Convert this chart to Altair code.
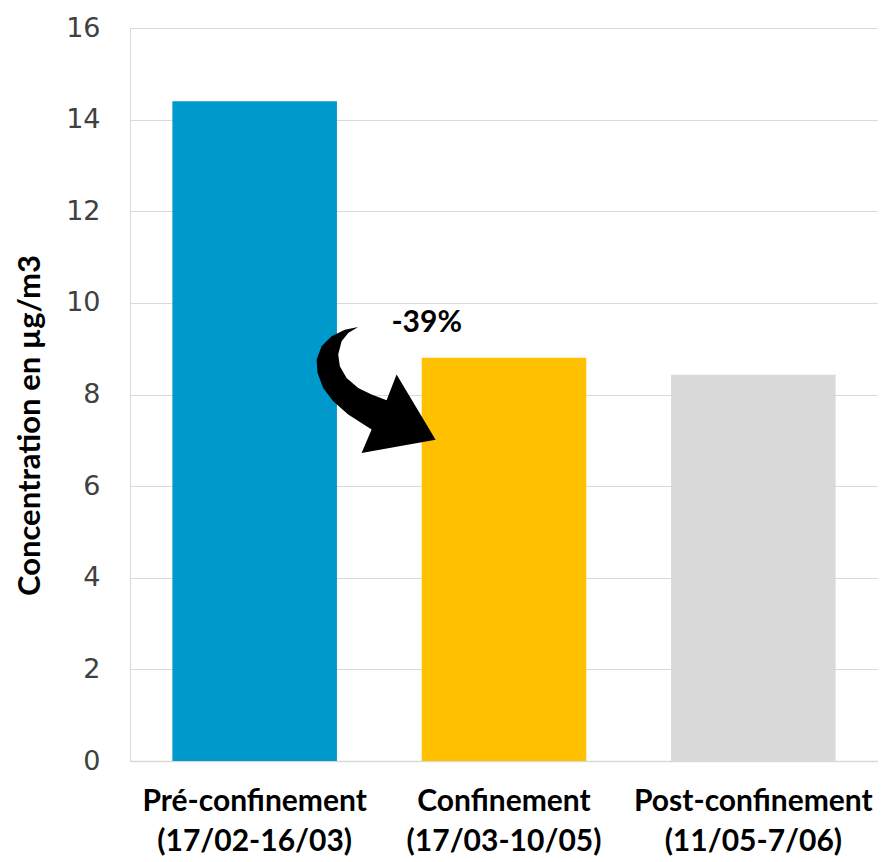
import altair as alt
import pandas as pd

# ---- data ----
categories = ["Pré-confinement|(17/02-16/03)", "Confinement|(17/03-10/05)", "Post-confinement|(11/05-7/06)"]
values = [14.4, 8.8, 8.43]
colors = ["#0099CC", "#FFC000", "#D9D9D9"]
y_ticks = [0, 2, 4, 6, 8, 10, 12, 14, 16]

# annotation (arrow + percentage), positions in data units
note_text = ["-39%"]
note_x = [1.19]
note_y = [9.56]
arrow_x = [0.987]
arrow_y = [8.10]

# outline of the curved arrow glyph (unit square, SVG y-down)
arrow_glyph = [(-0.280, -0.984), (-0.488, -0.942), (-0.695, -0.839), (-0.852, -0.683),
               (-0.930, -0.473), (-0.914, -0.266), (-0.827, -0.031), (-0.670, 0.177),
               (-0.436, 0.386), (-0.070, 0.620), (-0.227, 0.984), (0.930, 0.777),
               (0.320, -0.239), (0.164, 0.161), (-0.070, 0.073), (-0.280, -0.031),
               (-0.461, -0.188), (-0.566, -0.370), (-0.592, -0.552), (-0.539, -0.761),
               (-0.436, -0.891)]
arrow_path = "M" + "L".join(f"{a},{b}" for a, b in arrow_glyph) + "Z"

df = pd.DataFrame({"cat": categories, "val": values})
notes = pd.DataFrame({"t": note_text, "x": note_x, "y": note_y})
arrows = pd.DataFrame({"x": arrow_x, "y": arrow_y})

W, H = 748, 733

bars = alt.Chart(df).mark_bar().encode(
    x=alt.X("cat:N", sort=categories,
            scale=alt.Scale(paddingInner=0.34, paddingOuter=0.17),
            axis=alt.Axis(title=None, labelExpr="split(datum.label, '|')", labelAngle=0,
                          labelFont="Lato", labelFontWeight="bold", labelFontSize=30,
                          labelColor="#000000", labelPadding=25, labelLineHeight=40,
                          labelBaseline="top", labelLimit=400, labelOverlap=False,
                          domainColor="#D9D9D9", domainWidth=1.5,
                          ticks=False, grid=False)),
    y=alt.Y("val:Q", scale=alt.Scale(domain=[0, 16], nice=False),
            axis=alt.Axis(values=y_ticks, title="Concentration en µg/m3",
                          titleFont="Lato", titleFontWeight="bold", titleFontSize=31,
                          titleColor="#000000", titleAngle=-90, titleX=-100, titleY=397,
                          titleAlign="center", titleBaseline="middle",
                          labelFont="DejaVu Sans", labelFontSize=27, labelColor="#404040",
                          labelPadding=30, ticks=False, domainColor="#D9D9D9",
                          gridColor="#D9D9D9", grid=True)),
    color=alt.Color("cat:N", scale=alt.Scale(domain=categories, range=colors), legend=None),
)

xq = alt.Scale(domain=[0, 3], nice=False, zero=False)
yq = alt.Scale(domain=[0, 16], nice=False)

arrow = alt.Chart(arrows).mark_point(shape=arrow_path, filled=True, fill="#000000",
                                     opacity=1, size=16384, strokeWidth=0).encode(
    x=alt.X("x:Q", scale=xq, axis=None),
    y=alt.Y("y:Q", scale=yq, axis=None),
)

text = alt.Chart(notes).mark_text(font="Lato", fontWeight="bold", fontSize=30,
                                  color="#000000", align="center", baseline="middle").encode(
    x=alt.X("x:Q", scale=xq, axis=None),
    y=alt.Y("y:Q", scale=yq, axis=None),
    text="t:N",
)

chart = alt.layer(bars, arrow, text).resolve_scale(x="independent", y="independent").properties(
    width=W, height=H,
    autosize=alt.AutoSizeParams(type="none"),
    padding={"left": 122, "top": 20, "right": 0, "bottom": 101},
).configure_view(strokeWidth=0).configure(background="white")

chart.save("out.html", embed_options={"renderer": "svg", "actions": False})
